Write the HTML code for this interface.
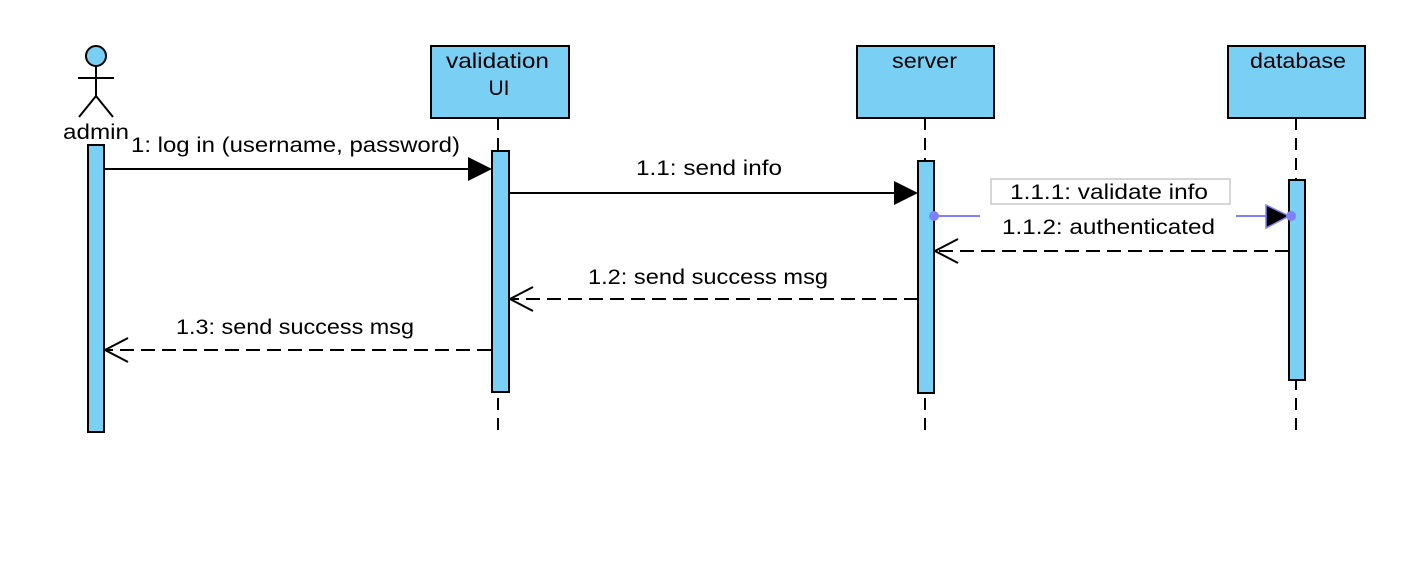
<!DOCTYPE html>
<html><head><style>
html,body{margin:0;padding:0;background:#fff;}
svg{display:block;}
text{font-family:"Liberation Sans","DejaVu Sans",sans-serif;font-size:21px;fill:#000;}
</style></head><body>
<svg width="1426" height="574" viewBox="0 0 1426 574" xmlns="http://www.w3.org/2000/svg">
<rect width="1426" height="574" fill="#fff"/>
<g stroke="#000" stroke-width="2" stroke-dasharray="12,8">
<line x1="498" y1="118" x2="498" y2="434"/>
<line x1="925" y1="118" x2="925" y2="434"/>
<line x1="1296" y1="118" x2="1296" y2="434"/>
</g>
<g stroke="#000" stroke-width="2" fill="none">
<circle cx="96" cy="56" r="10" fill="#7acff5"/>
<line x1="96" y1="66" x2="96" y2="96"/>
<line x1="78" y1="78" x2="114" y2="78"/>
<line x1="96" y1="96" x2="79" y2="117"/>
<line x1="96" y1="96" x2="113" y2="117"/>
</g>
<text x="63" y="139" textLength="66" lengthAdjust="spacingAndGlyphs">admin</text>
<g fill="#7acff5" stroke="#000" stroke-width="2">
<rect x="431" y="46" width="138" height="72"/>
<rect x="857" y="46" width="137" height="72"/>
<rect x="1228" y="46" width="137" height="72"/>
</g>
<text x="446" y="68" textLength="103" lengthAdjust="spacingAndGlyphs">validation</text>
<text x="499" y="95" text-anchor="middle">UI</text>
<text x="892" y="68" textLength="65" lengthAdjust="spacingAndGlyphs">server</text>
<text x="1250" y="68" textLength="96" lengthAdjust="spacingAndGlyphs">database</text>
<g fill="#7acff5" stroke="#000" stroke-width="2">
<rect x="88" y="145" width="16" height="287"/>
<rect x="492" y="151" width="17" height="241"/>
<rect x="918" y="161" width="16" height="232"/>
<rect x="1289" y="180" width="16" height="200"/>
</g>
<rect x="128" y="130" width="336" height="28" fill="#fff"/>
<text x="131" y="152" textLength="329" lengthAdjust="spacingAndGlyphs">1: log in (username, password)</text>
<line x1="104" y1="169" x2="470" y2="169" stroke="#000" stroke-width="2"/>
<polygon points="468,157 492,169 468,181" fill="#000"/>
<line x1="509" y1="193" x2="896" y2="193" stroke="#000" stroke-width="2"/>
<polygon points="894,181 918,193 894,205" fill="#000"/>
<text x="636" y="175" textLength="146" lengthAdjust="spacingAndGlyphs">1.1: send info</text>
<rect x="991" y="179" width="239" height="25" fill="#fff" stroke="#c8c8c8" stroke-width="1.5"/>
<text x="1010" y="199" textLength="198" lengthAdjust="spacingAndGlyphs">1.1.1: validate info</text>
<line x1="934" y1="216" x2="980" y2="216" stroke="#8080ff" stroke-width="2"/>
<line x1="1236" y1="216" x2="1268" y2="216" stroke="#8080ff" stroke-width="2"/>
<polygon points="1266,205 1289,216 1266,228" fill="#000" stroke="#8080ff" stroke-width="1.5"/>
<circle cx="934" cy="216" r="5" fill="#8080ff"/>
<circle cx="1291" cy="216" r="5" fill="#8080ff"/>
<text x="1002" y="234" textLength="213" lengthAdjust="spacingAndGlyphs">1.1.2: authenticated</text>
<g stroke="#000" stroke-width="2" fill="none">
<line x1="1289" y1="251" x2="936" y2="251" stroke-dasharray="14,7"/>
<polyline points="958,239 935,251 958,263"/>
<line x1="918" y1="299" x2="511" y2="299" stroke-dasharray="14,7"/>
<polyline points="533,287 510,299 533,311"/>
<line x1="491" y1="350" x2="106" y2="350" stroke-dasharray="14,7"/>
<polyline points="128,338 105,350 128,362"/>
</g>
<text x="588" y="284" textLength="240" lengthAdjust="spacingAndGlyphs">1.2: send success msg</text>
<text x="176" y="334" textLength="238" lengthAdjust="spacingAndGlyphs">1.3: send success msg</text>
</svg>
</body></html>
